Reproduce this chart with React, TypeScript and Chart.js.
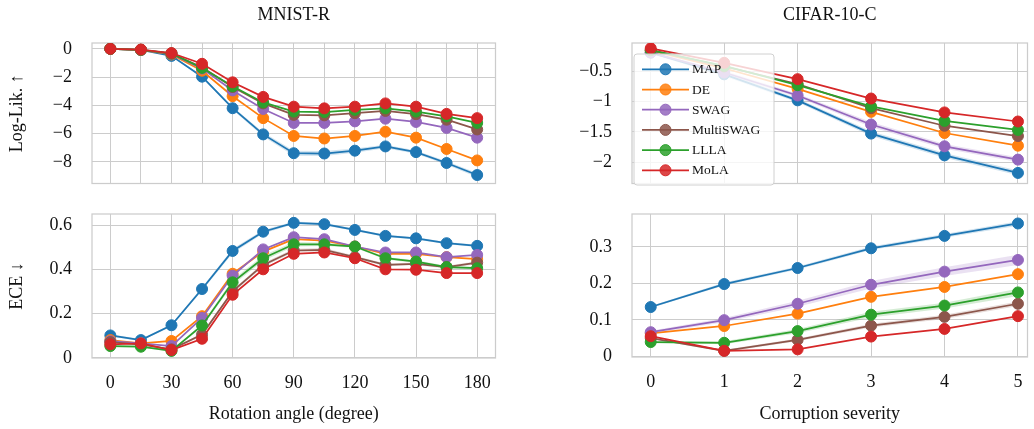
import React, { useEffect, useRef } from "react";
import { Chart, registerables } from "chart.js";

Chart.register(...registerables);

// ---------------- data ----------------
const METHODS = ["MAP", "DE", "SWAG", "MultiSWAG", "LLLA", "MoLA"];
const COLORS = ["#1f77b4", "#ff7f0e", "#9467bd", "#8c564b", "#2ca02c", "#d62728"];

const ROTATION_ANGLES = [0, 15, 30, 45, 60, 75, 90, 105, 120, 135, 150, 165, 180];
const ROTATION_LABEL_TICKS = [0, 30, 60, 90, 120, 150, 180];
const SEVERITIES = [0, 1, 2, 3, 4, 5];

const MNIST_LL_TICKS = [0, -2, -4, -6, -8];
const MNIST_ECE_TICKS = [0, 0.2, 0.4, 0.6];
const CIFAR_LL_TICKS = [-0.5, -1, -1.5, -2];
const CIFAR_ECE_TICKS = [0, 0.1, 0.2, 0.3];

// MNIST-R, log-likelihood
const MNIST_LL_MAP = [0, -0.08, -0.5, -1.97, -4.2, -6.05, -7.38, -7.4, -7.2, -6.9, -7.3, -8.07, -8.92];
const MNIST_LL_DE = [0, -0.08, -0.4, -1.55, -3.35, -4.9, -6.16, -6.34, -6.16, -5.86, -6.28, -7.08, -7.89];
const MNIST_LL_SWAG = [0, -0.08, -0.36, -1.4, -2.94, -4.25, -5.24, -5.24, -5.13, -4.94, -5.17, -5.59, -6.28];
const MNIST_LL_MULTISWAG = [0, -0.07, -0.34, -1.3, -2.7, -3.86, -4.67, -4.7, -4.55, -4.39, -4.62, -5.01, -5.7];
const MNIST_LL_LLLA = [0, -0.07, -0.33, -1.35, -2.65, -3.79, -4.44, -4.47, -4.32, -4.21, -4.44, -4.78, -5.24];
const MNIST_LL_MOLA = [0, -0.05, -0.3, -1.06, -2.37, -3.4, -4.09, -4.21, -4.09, -3.86, -4.09, -4.6, -4.9];
const MNIST_LL_MAP_STD = [0, 0.01, 0.03, 0.08, 0.1, 0.15, 0.18, 0.18, 0.15, 0.12, 0.12, 0.12, 0.15];

// MNIST-R, ECE
const MNIST_ECE_MAP = [0.101, 0.08, 0.147, 0.311, 0.483, 0.57, 0.61, 0.604, 0.578, 0.551, 0.54, 0.518, 0.506];
const MNIST_ECE_DE = [0.08, 0.065, 0.076, 0.188, 0.38, 0.48, 0.536, 0.53, 0.503, 0.47, 0.47, 0.455, 0.446];
const MNIST_ECE_SWAG = [0.075, 0.065, 0.053, 0.18, 0.371, 0.49, 0.545, 0.536, 0.503, 0.476, 0.476, 0.455, 0.465];
const MNIST_ECE_MULTISWAG = [0.071, 0.06, 0.038, 0.105, 0.3, 0.42, 0.485, 0.488, 0.455, 0.42, 0.425, 0.41, 0.43];
const MNIST_ECE_LLLA = [0.053, 0.05, 0.031, 0.146, 0.341, 0.45, 0.513, 0.513, 0.503, 0.45, 0.435, 0.41, 0.405];
const MNIST_ECE_MOLA = [0.061, 0.065, 0.035, 0.086, 0.285, 0.4, 0.47, 0.476, 0.45, 0.4, 0.398, 0.383, 0.383];
const MNIST_ECE_MAP_STD = [0.005, 0.005, 0.005, 0.008, 0.01, 0.008, 0.006, 0.006, 0.005, 0.005, 0.005, 0.005, 0.005];
const MNIST_ECE_LLLA_STD = [0.004, 0.004, 0.004, 0.008, 0.012, 0.012, 0.01, 0.008, 0.006, 0.006, 0.006, 0.006, 0.006];
const MNIST_ECE_MULTISWAG_STD = [0.004, 0.004, 0.004, 0.006, 0.008, 0.008, 0.008, 0.008, 0.006, 0.006, 0.006, 0.006, 0.006];

// CIFAR-10-C, log-likelihood
const CIFAR_LL_MAP = [-0.19, -0.55, -0.98, -1.53, -1.89, -2.18];
const CIFAR_LL_DE = [-0.16, -0.45, -0.79, -1.17, -1.52, -1.73];
const CIFAR_LL_SWAG = [-0.19, -0.52, -0.9, -1.38, -1.74, -1.96];
const CIFAR_LL_MULTISWAG = [-0.15, -0.42, -0.71, -1.11, -1.4, -1.57];
const CIFAR_LL_LLLA = [-0.15, -0.41, -0.73, -1.08, -1.32, -1.47];
const CIFAR_LL_MOLA = [-0.12, -0.36, -0.63, -0.95, -1.18, -1.33];
const CIFAR_LL_MAP_STD = [0.02, 0.03, 0.03, 0.04, 0.04, 0.04];
const CIFAR_LL_SWAG_STD = [0.02, 0.03, 0.03, 0.04, 0.04, 0.04];

// CIFAR-10-C, ECE
const CIFAR_ECE_MAP = [0.135, 0.198, 0.242, 0.296, 0.33, 0.364];
const CIFAR_ECE_DE = [0.063, 0.083, 0.117, 0.163, 0.19, 0.225];
const CIFAR_ECE_SWAG = [0.066, 0.099, 0.144, 0.196, 0.232, 0.264];
const CIFAR_ECE_MULTISWAG = [0.05, 0.015, 0.045, 0.084, 0.108, 0.144];
const CIFAR_ECE_LLLA = [0.039, 0.037, 0.069, 0.114, 0.139, 0.175];
const CIFAR_ECE_MOLA = [0.055, 0.015, 0.019, 0.054, 0.075, 0.11];
const CIFAR_ECE_MAP_STD = [0.003, 0.004, 0.004, 0.005, 0.005, 0.006];
const CIFAR_ECE_SWAG_STD = [0.004, 0.006, 0.008, 0.01, 0.012, 0.014];
const CIFAR_ECE_LLLA_STD = [0.002, 0.004, 0.006, 0.008, 0.008, 0.01];
const CIFAR_ECE_MULTISWAG_STD = [0.002, 0.003, 0.004, 0.005, 0.006, 0.006];

// ---------------- styling ----------------
const FONT_FAMILY = "'Liberation Serif', 'Times New Roman', serif";
const TEXT_COLOR = "#111111";
const GRID_COLOR = "#cccccc";

const fmt = (v: number) => {
  const r = Math.round(v * 1000) / 1000;
  return (r < 0 ? "\u2212" : "") + String(Math.abs(r));
};

const hexA = (hex: string, a: number) => {
  const n = parseInt(hex.slice(1), 16);
  return `rgba(${(n >> 16) & 255},${(n >> 8) & 255},${n & 255},${a})`;
};

type PanelSpec = {
  key: string;
  left: number;
  top: number;
  width: number;
  height: number;
  yAxisWidth: number;
  xAxisHeight: number;
  pad: { top: number; right: number; bottom: number; left: number };
  xPos: "top" | "bottom";
  xMin: number;
  xMax: number;
  yMin: number;
  yMax: number;
  xGrid: number[];
  xLabels: boolean;
  yTicks: number[];
  topTitle?: string;
  xTitle?: string;
  yTitle?: string;
  xs: number[];
  series: number[][];
  stds: (number[] | null)[];
  legend: boolean;
};

const framePlugin = {
  id: "frame",
  beforeDatasetsDraw(chart: any) {
    const { ctx, chartArea: a } = chart;
    ctx.save();
    ctx.strokeStyle = GRID_COLOR;
    ctx.lineWidth = 1.25;
    ctx.strokeRect(a.left, a.top, a.right - a.left, a.bottom - a.top);
    ctx.restore();
  },
};

const insideLegendPlugin = {
  id: "insideLegend",
  afterDatasetsDraw(chart: any) {
    const { ctx, chartArea: a } = chart;
    const bx = a.left + 2;
    const by = a.top + 11;
    const bw = 140;
    const bh = 131;
    ctx.save();
    ctx.beginPath();
    const r = 3;
    ctx.moveTo(bx + r, by);
    ctx.lineTo(bx + bw - r, by);
    ctx.arcTo(bx + bw, by, bx + bw, by + r, r);
    ctx.lineTo(bx + bw, by + bh - r);
    ctx.arcTo(bx + bw, by + bh, bx + bw - r, by + bh, r);
    ctx.lineTo(bx + r, by + bh);
    ctx.arcTo(bx, by + bh, bx, by + bh - r, r);
    ctx.lineTo(bx, by + r);
    ctx.arcTo(bx, by, bx + r, by, r);
    ctx.closePath();
    ctx.fillStyle = "rgba(255,255,255,0.8)";
    ctx.fill();
    ctx.strokeStyle = "#d0d0d0";
    ctx.lineWidth = 1;
    ctx.stroke();
    METHODS.forEach((m, i) => {
      const y = by + 15.3 + i * 20.2;
      ctx.strokeStyle = COLORS[i];
      ctx.lineWidth = 1.75;
      ctx.beginPath();
      ctx.moveTo(bx + 8, y);
      ctx.lineTo(bx + 55, y);
      ctx.stroke();
      ctx.beginPath();
      ctx.arc(bx + 31.5, y, 5.5, 0, Math.PI * 2);
      ctx.fillStyle = hexA(COLORS[i], 0.85);
      ctx.fill();
      ctx.lineWidth = 1;
      ctx.strokeStyle = COLORS[i];
      ctx.stroke();
      ctx.fillStyle = TEXT_COLOR;
      ctx.font = `13.5px ${FONT_FAMILY}`;
      ctx.textAlign = "left";
      ctx.textBaseline = "middle";
      ctx.fillText(m, bx + 58, y + 0.5);
    });
    ctx.restore();
  },
};

function buildConfig(p: PanelSpec): any {
  const datasets: any[] = [];
  p.series.forEach((vals, i) => {
    const std = p.stds[i];
    if (std) {
      datasets.push({
        data: p.xs.map((x, j) => ({ x, y: vals[j] - std[j] })),
        borderWidth: 0,
        pointRadius: 0,
        fill: false,
        order: 100,
        borderColor: "rgba(0,0,0,0)",
        backgroundColor: "rgba(0,0,0,0)",
      });
      datasets.push({
        data: p.xs.map((x, j) => ({ x, y: vals[j] + std[j] })),
        borderWidth: 0,
        pointRadius: 0,
        fill: "-1",
        order: 100,
        borderColor: "rgba(0,0,0,0)",
        backgroundColor: hexA(COLORS[i], 0.2),
      });
    }
  });
  p.series.forEach((vals, i) => {
    datasets.push({
      label: METHODS[i],
      data: p.xs.map((x, j) => ({ x, y: vals[j] })),
      borderColor: COLORS[i],
      backgroundColor: COLORS[i],
      pointBackgroundColor: COLORS[i],
      pointBorderColor: COLORS[i],
      pointRadius: 5.5,
      pointBorderWidth: 1,
      borderWidth: 1.75,
      fill: false,
      tension: 0,
      order: 10 - i,
    });
  });

  const tickFont = { family: FONT_FAMILY, size: 18 };
  const labelFont = { family: FONT_FAMILY, size: 18 };

  return {
    type: "line",
    data: { datasets },
    options: {
      responsive: false,
      animation: false,
      devicePixelRatio: 1,
      layout: { padding: p.pad },
      plugins: {
        legend: { display: false },
        tooltip: { enabled: false },
        title: { display: false },
      },
      scales: {
        x: {
          type: "linear",
          position: p.xPos,
          min: p.xMin,
          max: p.xMax,
          afterBuildTicks: (s: any) => {
            s.ticks = p.xGrid.map((v) => ({ value: v }));
          },
          afterFit: (s: any) => {
            s.height = p.xAxisHeight;
            s.paddingLeft = 0;
            s.paddingRight = 0;
            s.paddingTop = 0;
            s.paddingBottom = 0;
          },
          grid: { color: GRID_COLOR, lineWidth: 1, drawTicks: false },
          border: { display: false },
          ticks: {
            display: p.xLabels,
            padding: 14,
            font: tickFont,
            color: TEXT_COLOR,
            autoSkip: false,
            maxRotation: 0,
            callback: (v: any) => fmt(Number(v)),
          },
          title: p.topTitle
            ? { display: true, text: p.topTitle, font: labelFont, color: TEXT_COLOR, padding: { top: 4, bottom: 0 } }
            : p.xTitle
            ? { display: true, text: p.xTitle, font: labelFont, color: TEXT_COLOR, padding: { top: 0, bottom: 4 } }
            : { display: false },
        },
        y: {
          type: "linear",
          position: "left",
          min: p.yMin,
          max: p.yMax,
          afterBuildTicks: (s: any) => {
            s.ticks = p.yTicks.map((v) => ({ value: v }));
          },
          afterFit: (s: any) => {
            s.width = p.yAxisWidth;
            s.paddingLeft = 0;
            s.paddingRight = 0;
            s.paddingTop = 0;
            s.paddingBottom = 0;
          },
          grid: { color: GRID_COLOR, lineWidth: 1, drawTicks: false },
          border: { display: false },
          ticks: {
            padding: 20,
            font: tickFont,
            color: TEXT_COLOR,
            autoSkip: false,
            callback: (v: any) => fmt(Number(v)),
          },
          title: p.yTitle
            ? { display: true, text: p.yTitle, font: labelFont, color: TEXT_COLOR, padding: { top: 6, bottom: 0 } }
            : { display: false },
        },
      },
    },
    plugins: p.legend ? [framePlugin, insideLegendPlugin] : [framePlugin],
  };
}

const PANELS: PanelSpec[] = [
  {
    key: "mnist-ll",
    left: 0,
    top: 0,
    width: 502,
    height: 190,
    yAxisWidth: 92,
    xAxisHeight: 43,
    pad: { top: 0, right: 3, bottom: 3, left: 0 },
    xPos: "top",
    xMin: -9,
    xMax: 189,
    yMin: -9.52,
    yMax: 0.41,
    xGrid: ROTATION_ANGLES,
    xLabels: false,
    yTicks: MNIST_LL_TICKS,
    topTitle: "MNIST-R",
    yTitle: "Log-Lik. \u2191",
    xs: ROTATION_ANGLES,
    series: [MNIST_LL_MAP, MNIST_LL_DE, MNIST_LL_SWAG, MNIST_LL_MULTISWAG, MNIST_LL_LLLA, MNIST_LL_MOLA],
    stds: [MNIST_LL_MAP_STD, null, null, null, null, null],
    legend: false,
  },
  {
    key: "mnist-ece",
    left: 0,
    top: 190,
    width: 502,
    height: 239,
    yAxisWidth: 92,
    xAxisHeight: 71,
    pad: { top: 24, right: 3, bottom: 0, left: 0 },
    xPos: "bottom",
    xMin: -9,
    xMax: 189,
    yMin: -0.001,
    yMax: 0.65,
    xGrid: ROTATION_LABEL_TICKS,
    xLabels: true,
    yTicks: MNIST_ECE_TICKS,
    xTitle: "Rotation angle (degree)",
    yTitle: "ECE \u2193",
    xs: ROTATION_ANGLES,
    series: [MNIST_ECE_MAP, MNIST_ECE_DE, MNIST_ECE_SWAG, MNIST_ECE_MULTISWAG, MNIST_ECE_LLLA, MNIST_ECE_MOLA],
    stds: [MNIST_ECE_MAP_STD, null, null, MNIST_ECE_MULTISWAG_STD, MNIST_ECE_LLLA_STD, null],
    legend: false,
  },
  {
    key: "cifar-ll",
    left: 505,
    top: 0,
    width: 529,
    height: 190,
    yAxisWidth: 127,
    xAxisHeight: 43,
    pad: { top: 0, right: 1, bottom: 3, left: 0 },
    xPos: "top",
    xMin: -0.255,
    xMax: 5.13,
    yMin: -2.355,
    yMax: -0.032,
    xGrid: SEVERITIES,
    xLabels: false,
    yTicks: CIFAR_LL_TICKS,
    topTitle: "CIFAR-10-C",
    xs: SEVERITIES,
    series: [CIFAR_LL_MAP, CIFAR_LL_DE, CIFAR_LL_SWAG, CIFAR_LL_MULTISWAG, CIFAR_LL_LLLA, CIFAR_LL_MOLA],
    stds: [CIFAR_LL_MAP_STD, null, CIFAR_LL_SWAG_STD, null, null, null],
    legend: true,
  },
  {
    key: "cifar-ece",
    left: 505,
    top: 190,
    width: 529,
    height: 239,
    yAxisWidth: 127,
    xAxisHeight: 72,
    pad: { top: 24, right: 1, bottom: 0, left: 0 },
    xPos: "bottom",
    xMin: -0.255,
    xMax: 5.13,
    yMin: -0.002,
    yMax: 0.39,
    xGrid: SEVERITIES,
    xLabels: true,
    yTicks: CIFAR_ECE_TICKS,
    xTitle: "Corruption severity",
    xs: SEVERITIES,
    series: [CIFAR_ECE_MAP, CIFAR_ECE_DE, CIFAR_ECE_SWAG, CIFAR_ECE_MULTISWAG, CIFAR_ECE_LLLA, CIFAR_ECE_MOLA],
    stds: [CIFAR_ECE_MAP_STD, null, CIFAR_ECE_SWAG_STD, CIFAR_ECE_MULTISWAG_STD, CIFAR_ECE_LLLA_STD, null],
    legend: false,
  },
];

function Panel({ spec }: { spec: PanelSpec }) {
  const ref = useRef<HTMLCanvasElement | null>(null);
  useEffect(() => {
    if (!ref.current) return;
    const chart = new Chart(ref.current, buildConfig(spec));
    return () => chart.destroy();
  }, [spec]);
  return (
    <canvas
      ref={ref}
      width={spec.width}
      height={spec.height}
      style={{
        position: "absolute",
        left: spec.left,
        top: spec.top,
        width: spec.width,
        height: spec.height,
        display: "block",
      }}
    />
  );
}

export default function App() {
  return (
    <div
      style={{
        position: "absolute",
        left: 0,
        top: 0,
        width: 1034,
        height: 429,
        background: "#ffffff",
        overflow: "hidden",
      }}
    >
      {PANELS.map((p) => (
        <Panel key={p.key} spec={p} />
      ))}
    </div>
  );
}
